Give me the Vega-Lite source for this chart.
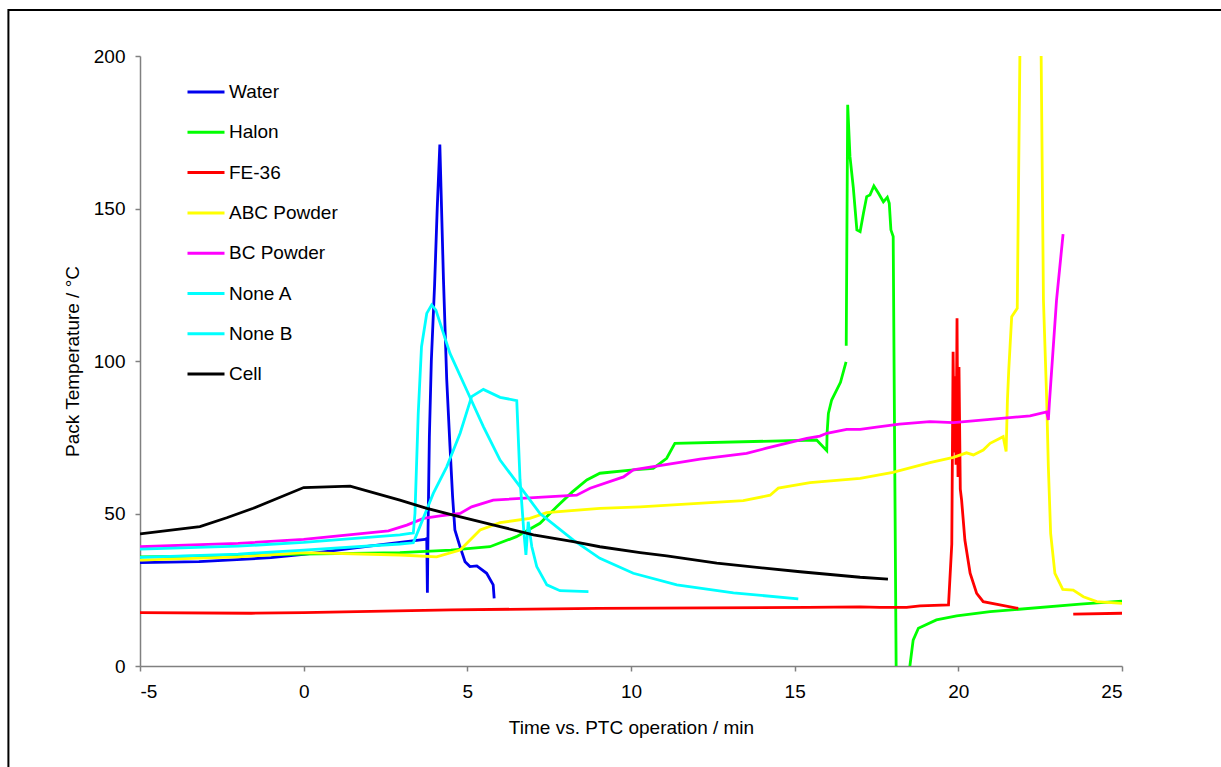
{
  "$schema": "https://vega.github.io/schema/vega-lite/v6.json",
  "width": 982,
  "height": 610,
  "autosize": "none",
  "padding": {"left": 140, "top": 56, "right": 99, "bottom": 101},
  "background": "white",
  "config": {
    "font": "Liberation Sans",
    "view": {"stroke": null},
    "axis": {
      "grid": false,
      "domainColor": "#808080",
      "tickColor": "#808080",
      "domainWidth": 1.5,
      "tickWidth": 1.5,
      "tickSize": 5,
      "labelFontSize": 19,
      "titleFontSize": 19,
      "labelColor": "black",
      "titleColor": "black",
      "titleFontWeight": "normal",
      "labelPadding": 10
    }
  },
  "layer": [
    {
      "data": {"values": [{"k": 1}]},
      "mark": {"type": "rect", "fill": null, "stroke": "black", "strokeWidth": 2, "clip": false},
      "encoding": {
        "x": {"datum": -9.02, "type": "quantitative"},
        "x2": {"datum": 30},
        "y": {"datum": 215.1, "type": "quantitative"},
        "y2": {"datum": -40}
      }
    },
    {
      "data": {"values": [
        {"s":"Water","g":"a","t":-5,"v":33.9},{"s":"Water","g":"a","t":-3.2,"v":34.2},{"s":"Water","g":"a","t":-1,"v":35.5},{"s":"Water","g":"a","t":0,"v":36.6},{"s":"Water","g":"a","t":2,"v":39.3},{"s":"Water","g":"a","t":3.7,"v":41.5},{"s":"Water","g":"a","t":3.76,"v":41.8},{"s":"Water","g":"a","t":3.78,"v":24},{"s":"Water","g":"a","t":3.8,"v":45},{"s":"Water","g":"a","t":3.84,"v":75},{"s":"Water","g":"a","t":3.9,"v":100},{"s":"Water","g":"a","t":4.0,"v":125},{"s":"Water","g":"a","t":4.08,"v":150},{"s":"Water","g":"a","t":4.16,"v":171},{"s":"Water","g":"a","t":4.27,"v":127},{"s":"Water","g":"a","t":4.37,"v":94},{"s":"Water","g":"a","t":4.47,"v":72},{"s":"Water","g":"a","t":4.55,"v":55.5},{"s":"Water","g":"a","t":4.62,"v":44.6},{"s":"Water","g":"a","t":4.78,"v":39},{"s":"Water","g":"a","t":4.93,"v":34.2},{"s":"Water","g":"a","t":5.08,"v":32.6},{"s":"Water","g":"a","t":5.29,"v":32.8},{"s":"Water","g":"a","t":5.59,"v":30.4},{"s":"Water","g":"a","t":5.79,"v":26.6},{"s":"Water","g":"a","t":5.82,"v":22.2},

        {"s":"Halon","g":"a","t":-5,"v":35.8},{"s":"Halon","g":"a","t":-2,"v":36.2},{"s":"Halon","g":"a","t":0,"v":36.7},{"s":"Halon","g":"a","t":2.94,"v":37.2},{"s":"Halon","g":"a","t":4.5,"v":38},{"s":"Halon","g":"a","t":5.69,"v":39.1},{"s":"Halon","g":"a","t":6.5,"v":42.4},{"s":"Halon","g":"a","t":7.22,"v":46.8},{"s":"Halon","g":"a","t":7.73,"v":52.2},{"s":"Halon","g":"a","t":8.2,"v":57},{"s":"Halon","g":"a","t":8.65,"v":61},{"s":"Halon","g":"a","t":9.05,"v":63.2},{"s":"Halon","g":"a","t":10.07,"v":64.3},{"s":"Halon","g":"a","t":10.68,"v":64.8},{"s":"Halon","g":"a","t":11.09,"v":68.1},{"s":"Halon","g":"a","t":11.34,"v":73},{"s":"Halon","g":"a","t":15.67,"v":74.1},{"s":"Halon","g":"a","t":15.98,"v":70.6},{"s":"Halon","g":"a","t":15.99,"v":76.3},{"s":"Halon","g":"a","t":16.03,"v":82.8},{"s":"Halon","g":"a","t":16.13,"v":87.2},{"s":"Halon","g":"a","t":16.4,"v":93},{"s":"Halon","g":"a","t":16.57,"v":99.7},
        {"s":"Halon","g":"b","t":16.575,"v":105},{"s":"Halon","g":"b","t":16.62,"v":184},{"s":"Halon","g":"b","t":16.69,"v":167},{"s":"Halon","g":"b","t":16.79,"v":157},{"s":"Halon","g":"b","t":16.9,"v":143},{"s":"Halon","g":"b","t":17.0,"v":142.4},{"s":"Halon","g":"b","t":17.1,"v":148.4},{"s":"Halon","g":"b","t":17.2,"v":153.9},{"s":"Halon","g":"b","t":17.3,"v":154.4},{"s":"Halon","g":"b","t":17.42,"v":157.4},{"s":"Halon","g":"b","t":17.56,"v":155},{"s":"Halon","g":"b","t":17.71,"v":152.2},{"s":"Halon","g":"b","t":17.83,"v":153.7},{"s":"Halon","g":"b","t":17.89,"v":151.7},{"s":"Halon","g":"b","t":17.94,"v":143},{"s":"Halon","g":"b","t":18.01,"v":140.8},{"s":"Halon","g":"b","t":18.1,"v":0},{"s":"Halon","g":"b","t":18.3,"v":-40},{"s":"Halon","g":"b","t":18.52,"v":0},{"s":"Halon","g":"b","t":18.62,"v":8.5},{"s":"Halon","g":"b","t":18.78,"v":12.4},{"s":"Halon","g":"b","t":19.33,"v":15.1},{"s":"Halon","g":"b","t":19.95,"v":16.4},{"s":"Halon","g":"b","t":20.97,"v":17.8},{"s":"Halon","g":"b","t":23.72,"v":20.3},{"s":"Halon","g":"b","t":25,"v":21.3},

        {"s":"FE-36","g":"a","t":-5,"v":17.5},{"s":"FE-36","g":"a","t":-1.6,"v":17.3},{"s":"FE-36","g":"a","t":0,"v":17.5},{"s":"FE-36","g":"a","t":4.5,"v":18.4},{"s":"FE-36","g":"a","t":9,"v":18.9},{"s":"FE-36","g":"a","t":15.4,"v":19.2},{"s":"FE-36","g":"a","t":17,"v":19.4},{"s":"FE-36","g":"a","t":17.6,"v":19.2},{"s":"FE-36","g":"a","t":18.42,"v":19.2},{"s":"FE-36","g":"a","t":18.83,"v":19.7},{"s":"FE-36","g":"a","t":19.7,"v":20},{"s":"FE-36","g":"a","t":19.8,"v":40},{"s":"FE-36","g":"a","t":19.84,"v":103},{"s":"FE-36","g":"a","t":19.87,"v":70},{"s":"FE-36","g":"a","t":19.9,"v":95},{"s":"FE-36","g":"a","t":19.93,"v":66},{"s":"FE-36","g":"a","t":19.96,"v":114},{"s":"FE-36","g":"a","t":19.99,"v":62},{"s":"FE-36","g":"a","t":20.02,"v":98},{"s":"FE-36","g":"a","t":20.06,"v":58},{"s":"FE-36","g":"a","t":20.1,"v":54.4},{"s":"FE-36","g":"a","t":20.2,"v":41.3},{"s":"FE-36","g":"a","t":20.36,"v":30.4},{"s":"FE-36","g":"a","t":20.56,"v":23.8},{"s":"FE-36","g":"a","t":20.76,"v":21.1},{"s":"FE-36","g":"a","t":21.83,"v":18.9},
        {"s":"FE-36","g":"b","t":23.51,"v":17.0},{"s":"FE-36","g":"b","t":25,"v":17.3},

        {"s":"ABC Powder","g":"a","t":-5,"v":34.7},{"s":"ABC Powder","g":"a","t":-2,"v":35.8},{"s":"ABC Powder","g":"a","t":0,"v":37.2},{"s":"ABC Powder","g":"a","t":2.94,"v":36.4},{"s":"ABC Powder","g":"a","t":4.06,"v":35.8},{"s":"ABC Powder","g":"a","t":4.78,"v":38},{"s":"ABC Powder","g":"a","t":5.39,"v":44.6},{"s":"ABC Powder","g":"a","t":6.0,"v":47},{"s":"ABC Powder","g":"a","t":6.91,"v":48.4},{"s":"ABC Powder","g":"a","t":7.42,"v":50.3},{"s":"ABC Powder","g":"a","t":9.05,"v":51.7},{"s":"ABC Powder","g":"a","t":10.28,"v":52.2},{"s":"ABC Powder","g":"a","t":13.43,"v":54.2},{"s":"ABC Powder","g":"a","t":14.25,"v":56},{"s":"ABC Powder","g":"a","t":14.5,"v":58.3},{"s":"ABC Powder","g":"a","t":15.47,"v":60.1},{"s":"ABC Powder","g":"a","t":17,"v":61.5},{"s":"ABC Powder","g":"a","t":18,"v":63.5},{"s":"ABC Powder","g":"a","t":19.13,"v":66.7},{"s":"ABC Powder","g":"a","t":19.85,"v":68.4},{"s":"ABC Powder","g":"a","t":20.25,"v":69.9},{"s":"ABC Powder","g":"a","t":20.46,"v":69.2},{"s":"ABC Powder","g":"a","t":20.76,"v":70.8},{"s":"ABC Powder","g":"a","t":20.97,"v":73},{"s":"ABC Powder","g":"a","t":21.37,"v":75.2},{"s":"ABC Powder","g":"a","t":21.46,"v":70.3},{"s":"ABC Powder","g":"a","t":21.5,"v":87.2},{"s":"ABC Powder","g":"a","t":21.54,"v":97},{"s":"ABC Powder","g":"a","t":21.63,"v":114.5},{"s":"ABC Powder","g":"a","t":21.8,"v":117.3},{"s":"ABC Powder","g":"a","t":21.88,"v":200},{"s":"ABC Powder","g":"a","t":22.2,"v":330},{"s":"ABC Powder","g":"a","t":22.53,"v":200},{"s":"ABC Powder","g":"a","t":22.6,"v":120},{"s":"ABC Powder","g":"a","t":22.7,"v":87.2},{"s":"ABC Powder","g":"a","t":22.75,"v":65.3},{"s":"ABC Powder","g":"a","t":22.82,"v":43.5},{"s":"ABC Powder","g":"a","t":22.95,"v":30.4},{"s":"ABC Powder","g":"a","t":23.19,"v":25.1},{"s":"ABC Powder","g":"a","t":23.51,"v":24.9},{"s":"ABC Powder","g":"a","t":23.82,"v":22.7},{"s":"ABC Powder","g":"a","t":24.23,"v":21.1},{"s":"ABC Powder","g":"a","t":25,"v":20.5},

        {"s":"BC Powder","g":"a","t":-5,"v":39.1},{"s":"BC Powder","g":"a","t":-2,"v":40.2},{"s":"BC Powder","g":"a","t":0,"v":41.5},{"s":"BC Powder","g":"a","t":2.59,"v":44.3},{"s":"BC Powder","g":"a","t":3.15,"v":46.2},{"s":"BC Powder","g":"a","t":3.66,"v":48.4},{"s":"BC Powder","g":"a","t":4.17,"v":49.2},{"s":"BC Powder","g":"a","t":4.78,"v":50},{"s":"BC Powder","g":"a","t":5.13,"v":52.2},{"s":"BC Powder","g":"a","t":5.79,"v":54.4},{"s":"BC Powder","g":"a","t":8.34,"v":56},{"s":"BC Powder","g":"a","t":8.75,"v":58.3},{"s":"BC Powder","g":"a","t":9.77,"v":62},{"s":"BC Powder","g":"a","t":10.07,"v":64.3},{"s":"BC Powder","g":"a","t":12.11,"v":67.8},{"s":"BC Powder","g":"a","t":13.53,"v":69.7},{"s":"BC Powder","g":"a","t":14.14,"v":71.4},{"s":"BC Powder","g":"a","t":15.37,"v":74.6},{"s":"BC Powder","g":"a","t":15.77,"v":75.4},{"s":"BC Powder","g":"a","t":15.98,"v":76.3},{"s":"BC Powder","g":"a","t":16.59,"v":77.6},{"s":"BC Powder","g":"a","t":17,"v":77.6},{"s":"BC Powder","g":"a","t":17.5,"v":78.3},{"s":"BC Powder","g":"a","t":18.2,"v":79.3},{"s":"BC Powder","g":"a","t":19.13,"v":80.1},{"s":"BC Powder","g":"a","t":19.85,"v":79.8},{"s":"BC Powder","g":"a","t":22.19,"v":82},{"s":"BC Powder","g":"a","t":22.7,"v":83.3},{"s":"BC Powder","g":"a","t":22.75,"v":80.7},{"s":"BC Powder","g":"a","t":22.78,"v":86},{"s":"BC Powder","g":"a","t":23.0,"v":120},{"s":"BC Powder","g":"a","t":23.2,"v":141.6},

        {"s":"None A","g":"a","t":-5,"v":38.3},{"s":"None A","g":"a","t":-2,"v":39.3},{"s":"None A","g":"a","t":0,"v":40.5},{"s":"None A","g":"a","t":2.94,"v":43},{"s":"None A","g":"a","t":3.25,"v":43.5},{"s":"None A","g":"a","t":3.35,"v":43.6},{"s":"None A","g":"a","t":3.4,"v":50},{"s":"None A","g":"a","t":3.5,"v":82.8},{"s":"None A","g":"a","t":3.6,"v":104.7},{"s":"None A","g":"a","t":3.76,"v":115.6},{"s":"None A","g":"a","t":3.91,"v":118.4},{"s":"None A","g":"a","t":4.04,"v":116.7},{"s":"None A","g":"a","t":4.47,"v":102.5},{"s":"None A","g":"a","t":4.98,"v":90.5},{"s":"None A","g":"a","t":5.49,"v":78.5},{"s":"None A","g":"a","t":6.0,"v":67.5},{"s":"None A","g":"a","t":6.61,"v":58.8},{"s":"None A","g":"a","t":7.22,"v":50},{"s":"None A","g":"a","t":8.24,"v":41.3},{"s":"None A","g":"a","t":9.05,"v":35.3},{"s":"None A","g":"a","t":10.07,"v":30.4},{"s":"None A","g":"a","t":11.4,"v":26.6},{"s":"None A","g":"a","t":13.13,"v":24},{"s":"None A","g":"a","t":15.11,"v":22},

        {"s":"None B","g":"a","t":-5,"v":35.6},{"s":"None B","g":"a","t":-2,"v":36.7},{"s":"None B","g":"a","t":0,"v":38},{"s":"None B","g":"a","t":2.94,"v":40},{"s":"None B","g":"a","t":3.35,"v":40.4},{"s":"None B","g":"a","t":3.55,"v":45.7},{"s":"None B","g":"a","t":3.96,"v":56.6},{"s":"None B","g":"a","t":4.37,"v":65.3},{"s":"None B","g":"a","t":4.78,"v":76.3},{"s":"None B","g":"a","t":5.13,"v":88.3},{"s":"None B","g":"a","t":5.49,"v":90.7},{"s":"None B","g":"a","t":6.0,"v":88.1},{"s":"None B","g":"a","t":6.51,"v":87},{"s":"None B","g":"a","t":6.61,"v":61},{"s":"None B","g":"a","t":6.73,"v":43.5},{"s":"None B","g":"a","t":6.79,"v":36.4},{"s":"None B","g":"a","t":6.86,"v":47.3},{"s":"None B","g":"a","t":6.97,"v":39.1},{"s":"None B","g":"a","t":7.12,"v":32.6},{"s":"None B","g":"a","t":7.43,"v":26.6},{"s":"None B","g":"a","t":7.83,"v":24.7},{"s":"None B","g":"a","t":8.7,"v":24.4},

        {"s":"Cell","g":"a","t":-5,"v":43.3},{"s":"Cell","g":"a","t":-3.17,"v":45.7},{"s":"Cell","g":"a","t":-2.35,"v":48.6},{"s":"Cell","g":"a","t":-1.54,"v":51.7},{"s":"Cell","g":"a","t":0,"v":58.5},{"s":"Cell","g":"a","t":1.42,"v":59},{"s":"Cell","g":"a","t":2.94,"v":54.4},{"s":"Cell","g":"a","t":3.76,"v":51.7},{"s":"Cell","g":"a","t":4.57,"v":49.5},{"s":"Cell","g":"a","t":6.0,"v":45.7},{"s":"Cell","g":"a","t":7.02,"v":43},{"s":"Cell","g":"a","t":8.24,"v":40.8},{"s":"Cell","g":"a","t":9.05,"v":39.1},{"s":"Cell","g":"a","t":10.28,"v":37.2},{"s":"Cell","g":"a","t":11.09,"v":36.1},{"s":"Cell","g":"a","t":12.62,"v":33.7},{"s":"Cell","g":"a","t":15.17,"v":30.9},{"s":"Cell","g":"a","t":17,"v":29.1},{"s":"Cell","g":"a","t":17.85,"v":28.5}
      ]},
      "mark": {"type": "line", "strokeWidth": 2.8, "clip": true},
      "encoding": {
        "x": {
          "field": "t", "type": "quantitative",
          "scale": {"domain": [-5, 25], "nice": false, "zero": false},
          "axis": {"values": [-5, 0, 5, 10, 15, 20, 25], "title": "Time vs. PTC operation / min", "labelExpr": "'' + datum.value", "labelPadding": 11, "titlePadding": 17}
        },
        "y": {
          "field": "v", "type": "quantitative",
          "scale": {"domain": [0, 200], "nice": false},
          "axis": {"values": [0, 50, 100, 150, 200], "title": "Pack Temperature / °C", "titlePadding": 11}
        },
        "color": {
          "field": "s", "type": "nominal",
          "scale": {
            "domain": ["Water", "Halon", "FE-36", "ABC Powder", "BC Powder", "None A", "None B", "Cell"],
            "range": ["#0000ee", "#00ff00", "#ff0000", "#ffff00", "#ff00ff", "#00ffff", "#00ffff", "#000000"]
          },
          "legend": {
            "orient": "none", "legendX": 46, "legendY": 16, "title": null,
            "symbolType": "stroke", "symbolSize": 1369, "symbolStrokeWidth": 3,
            "labelFontSize": 19, "labelColor": "black", "rowPadding": 10.3, "labelOffset": 3, "padding": 0
          }
        },
        "detail": {"field": "g"}
      }
    }
  ]
}
